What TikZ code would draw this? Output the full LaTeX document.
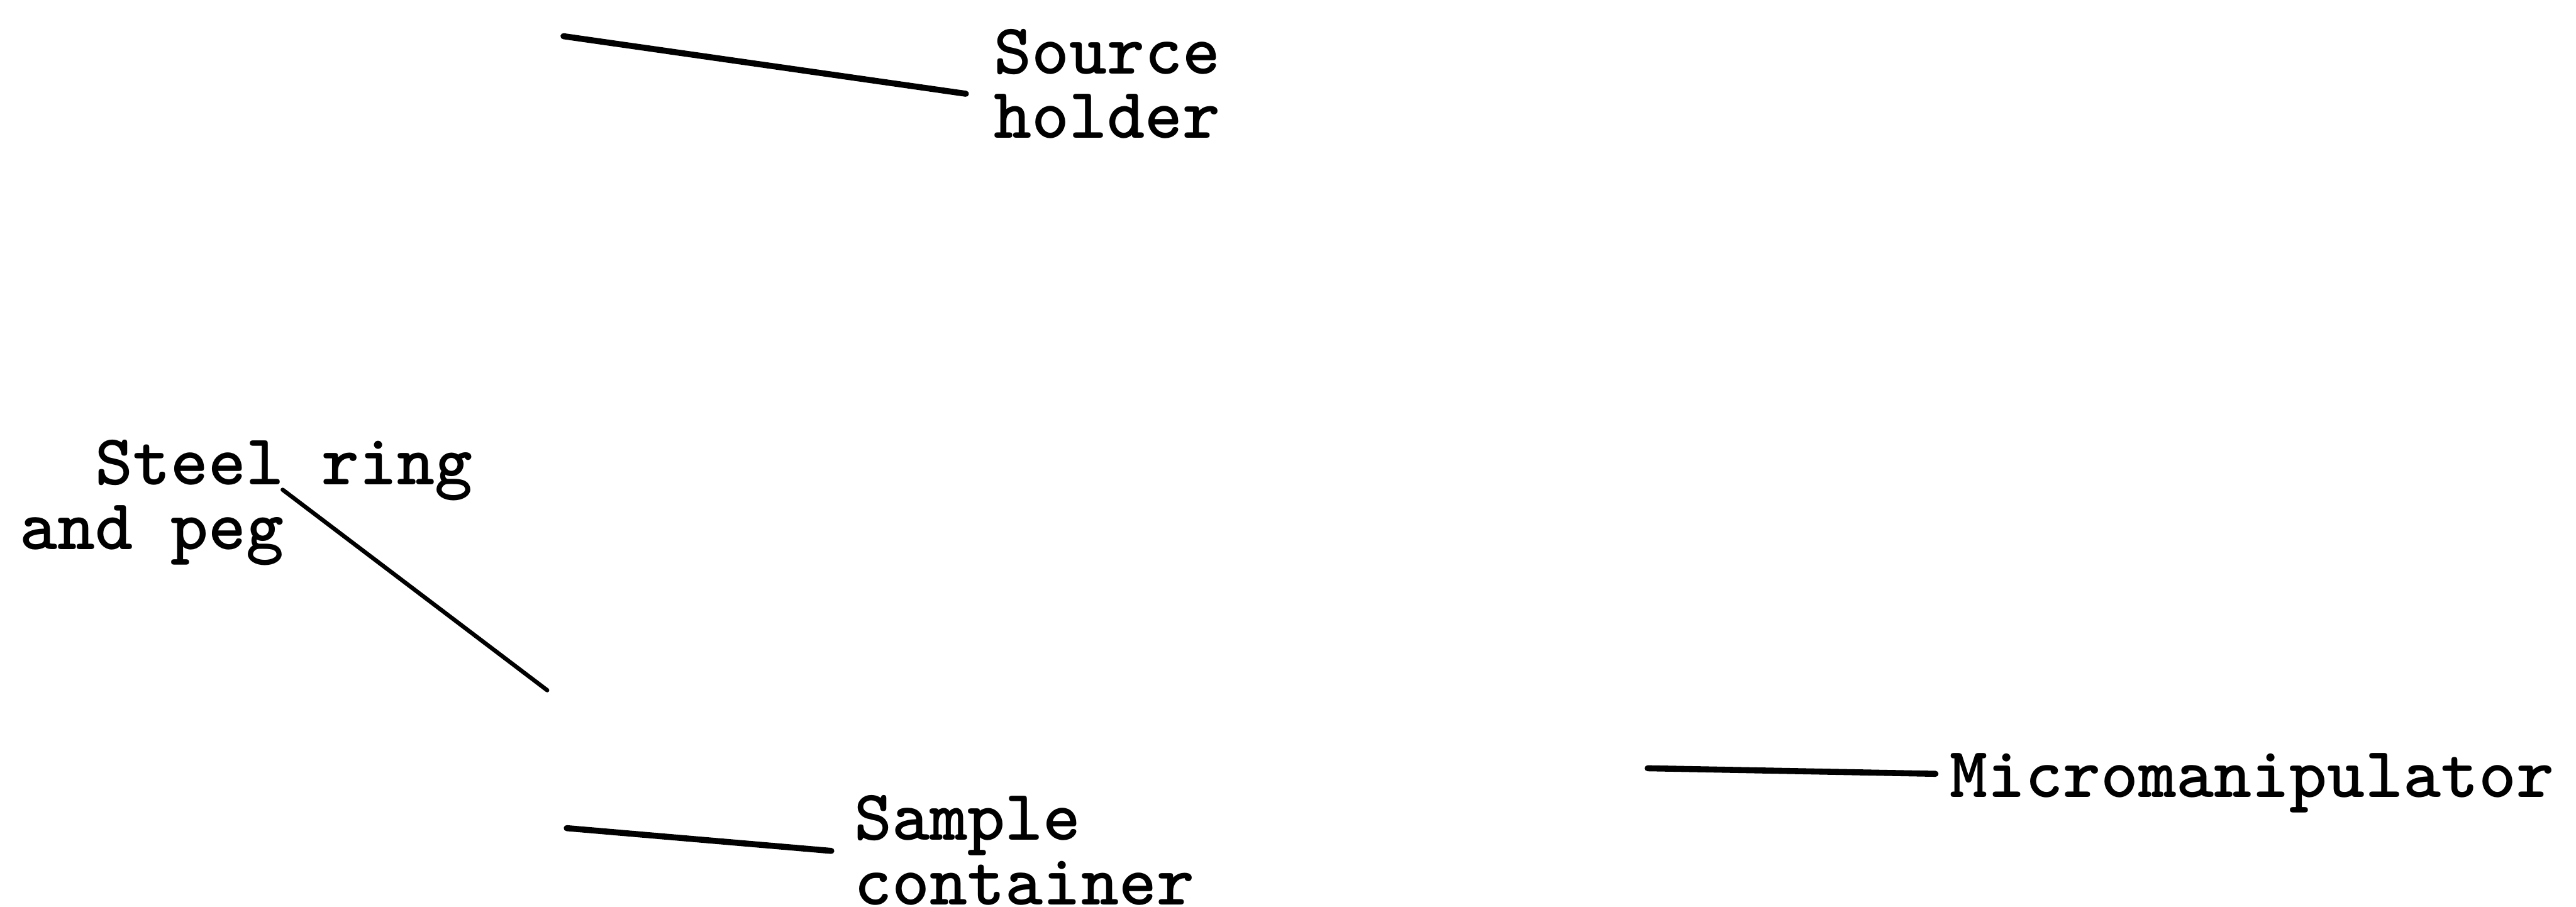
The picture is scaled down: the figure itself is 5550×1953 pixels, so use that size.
\documentclass[tikz,border=0pt]{standalone}
\begin{document}
\begin{tikzpicture}[x=0.1pt,y=-0.1pt,
  lbl/.style={anchor=base west,inner sep=0pt,outer sep=0pt,
    font=\fontsize{15.5}{13.9}\selectfont\ttfamily\bfseries},
  leader/.style={line width=1.3pt,line cap=round}]
\useasboundingbox (0,0) rectangle (5550,1953);

% labels
\node[lbl] (src) at (2141,159) {\begin{tabular}[t]{@{}l@{}}Source\\holder\end{tabular}};
\node[lbl] (ring) at (42,1044) {\begin{tabular}[t]{@{}l@{}}\ \ Steel ring\\and peg\end{tabular}};
\node[lbl] (smp) at (1841,1810) {\begin{tabular}[t]{@{}l@{}}Sample\\container\end{tabular}};
\node[lbl] (mm) at (4201,1717) {Micromanipulator};

% leader ends
\coordinate (srcA) at (1214,78);   \coordinate (srcB) at (2081,202);
\coordinate (ringA) at (609,1055); \coordinate (ringB) at (1179,1487);
\coordinate (smpA) at (1221,1784); \coordinate (smpB) at (1791,1833);
\coordinate (mmA) at (3550,1655);  \coordinate (mmB) at (4170,1667);

% leader lines
\draw[leader] (srcA) -- (srcB);
\draw[leader,line width=0.9pt] (ringA) -- (ringB);
\draw[leader] (smpA) -- (smpB);
\draw[leader] (mmA) -- (mmB);
\end{tikzpicture}
\end{document}
